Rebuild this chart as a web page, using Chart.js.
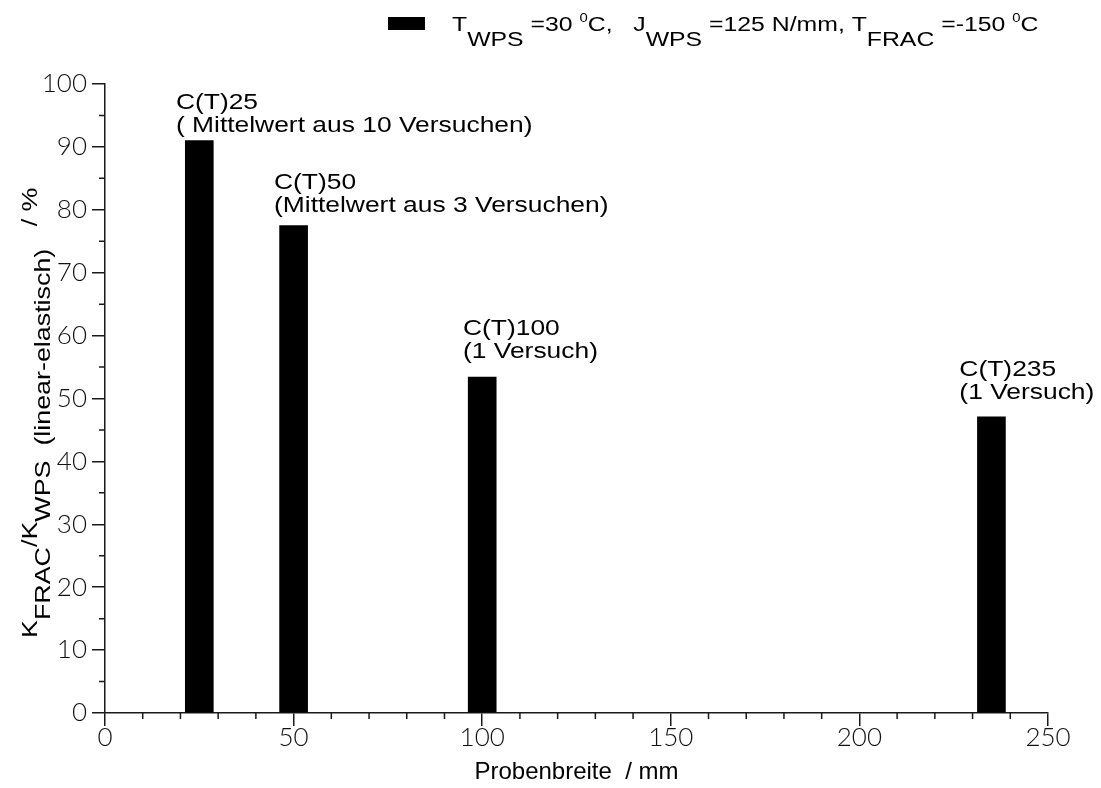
<!DOCTYPE html>
<html>
<head>
<meta charset="utf-8">
<script src="https://cdn.jsdelivr.net/npm/chart.js@4.4.0/dist/chart.umd.min.js"></script>
<style>
  html, body { margin: 0; padding: 0; background: #fff; }
  #wrap { width: 1101px; height: 788px; position: relative; }
</style>
</head>
<body>
<div id="wrap"><canvas id="chart"></canvas></div>
<script>
// specimen width (mm) and K_FRAC/K_WPS ratio (%)
const widths = [25, 50, 100, 235];
const ratios = [91.0, 77.5, 53.4, 47.1];
const specimenNames = ['C(T)25', 'C(T)50', 'C(T)100', 'C(T)235'];
const specimenNotes = ['( Mittelwert aus 10 Versuchen)', '(Mittelwert aus 3 Versuchen)', '(1 Versuch)', '(1 Versuch)'];
// where each note sits, in data units (left edge, baseline of 2nd line)
const noteX = [18.8, 44.8, 94.9, 226.5];
const noteY = [92.4, 79.7, 56.4, 49.9];

const xTicks = [0, 50, 100, 150, 200, 250];
const xMinor = [10, 20, 30, 40, 60, 70, 80, 90, 110, 120, 130, 140, 160, 170, 180, 190, 210, 220, 230, 240];
const yTicks = [0, 10, 20, 30, 40, 50, 60, 70, 80, 90, 100];
const yMinor = [5, 15, 25, 35, 45, 55, 65, 75, 85, 95];

const SANS = '"Liberation Sans", Arial, sans-serif';
const AXIS = '#1a1a1a';
const BAR = '#000';

// text runs with sub/superscripts, stretched horizontally like the original plot
function rich(ctx, parts, x, y, size, sx, subShift) {
  ctx.save();
  ctx.translate(x, y);
  ctx.scale(sx, 1);
  let cx = 0;
  parts.forEach((p) => {
    const s = p.sup ? Math.round(size * 0.58) : size;
    ctx.font = s + 'px ' + SANS;
    ctx.fillText(p.t, cx, p.sub ? subShift : p.sup ? -size * 0.45 : 0);
    cx += ctx.measureText(p.t).width;
  });
  ctx.restore();
}

const extras = {
  id: 'extras',
  afterDraw(chart) {
    const { ctx, chartArea: a, scales: { x, y } } = chart;
    ctx.save();

    // minor ticks
    ctx.strokeStyle = AXIS;
    ctx.lineWidth = 1.5;
    ctx.beginPath();
    xMinor.forEach((v) => { const p = x.getPixelForValue(v); ctx.moveTo(p, a.bottom); ctx.lineTo(p, a.bottom + 6); });
    yMinor.forEach((v) => { const p = y.getPixelForValue(v); ctx.moveTo(a.left, p); ctx.lineTo(a.left - 6, p); });
    ctx.stroke();

    ctx.fillStyle = '#000';
    ctx.textBaseline = 'alphabetic';
    ctx.textAlign = 'left';

    // notes above bars
    specimenNames.forEach((name, i) => {
      const px = x.getPixelForValue(noteX[i]);
      const py = y.getPixelForValue(noteY[i]);
      rich(ctx, [{ t: name }], px, py - 23, 22, 1.2, 0);
      rich(ctx, [{ t: specimenNotes[i] }], px, py, 22, 1.2, 0);
    });

    // legend
    ctx.fillStyle = chart.data.datasets[0].backgroundColor;
    ctx.fillRect(388, 17, 37, 13);
    ctx.fillStyle = '#000';
    rich(ctx, [
      { t: 'T' }, { t: 'WPS', sub: true }, { t: ' =30 ' }, { t: '0', sup: true }, { t: 'C,   J' },
      { t: 'WPS', sub: true }, { t: ' =125 N/mm, T' }, { t: 'FRAC', sub: true }, { t: ' =-150 ' },
      { t: '0', sup: true }, { t: 'C' },
    ], 452, 31, 20, 1.24, 15);

    // y axis title
    ctx.translate(37, 638);
    ctx.rotate(-Math.PI / 2);
    rich(ctx, [
      { t: 'K' }, { t: 'FRAC', sub: true }, { t: '/K' }, { t: 'WPS', sub: true },
      { t: '  (linear-elastisch)', sub: true }, { t: '   / %' },
    ], 0, 0, 22, 1.22, 13);

    ctx.restore();
  },
};

const tickFont = { family: 'Lato', weight: 300, size: 26 };

new Chart(document.getElementById('chart'), {
  type: 'bar',
  data: {
    datasets: [{
      data: widths.map((w, i) => ({ x: w, y: ratios[i] })),
      backgroundColor: BAR,
      borderWidth: 0,
      barThickness: 28,
    }],
  },
  options: {
    responsive: true,
    maintainAspectRatio: false,
    animation: false,
    events: [],
    layout: { padding: { top: 84, right: 53, left: 0, bottom: 0 } },
    plugins: { legend: { display: false }, tooltip: { enabled: false } },
    scales: {
      x: {
        type: 'linear', min: 0, max: 250, offset: false,
        afterBuildTicks: (s) => { s.ticks = xTicks.map((v) => ({ value: v })); },
        afterFit: (s) => { s.height = 75; },
        grid: { offset: false, drawOnChartArea: false, tickLength: 13, color: AXIS, lineWidth: 1.5 },
        border: { color: AXIS, width: 1.5 },
        ticks: { autoSkip: false, maxRotation: 0, color: '#111', font: tickFont, padding: -4 },
        title: { display: true, text: 'Probenbreite  / mm', color: '#000', font: { family: SANS, size: 24 }, padding: { top: 0, bottom: 1 } },
      },
      y: {
        type: 'linear', min: 0, max: 100,
        afterBuildTicks: (s) => { s.ticks = yTicks.map((v) => ({ value: v })); },
        afterFit: (s) => { s.width = 105; },
        grid: { drawOnChartArea: false, tickLength: 13, color: AXIS, lineWidth: 1.5 },
        border: { color: AXIS, width: 1.5 },
        ticks: { color: '#111', font: tickFont, padding: 5 },
      },
    },
  },
  plugins: [extras],
});
</script>
</body>
</html>
